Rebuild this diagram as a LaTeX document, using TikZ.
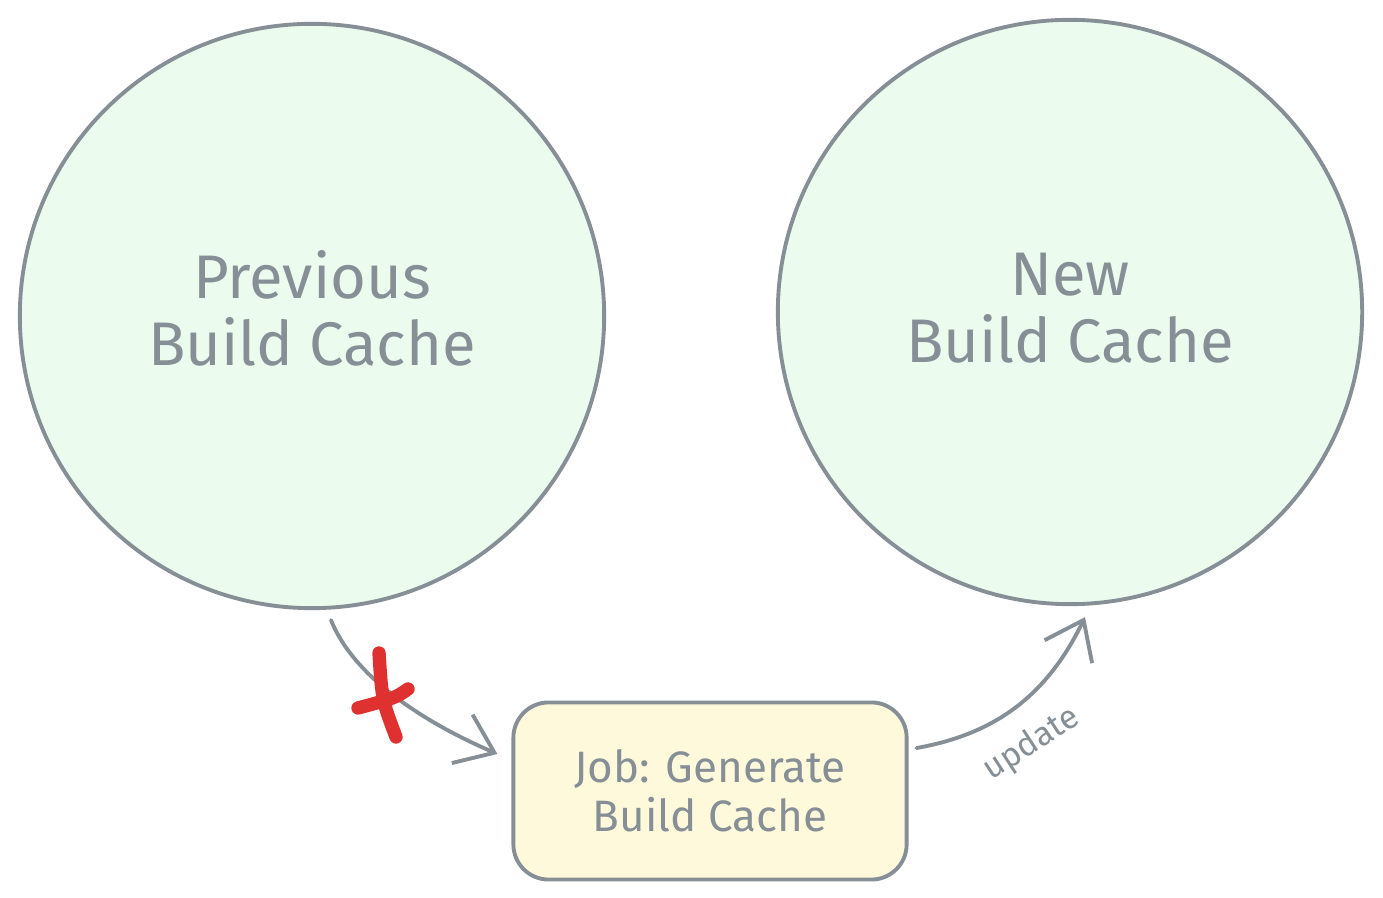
\documentclass[tikz,border=0pt]{standalone}
\usepackage{fontspec}
\setmainfont{Fira Sans}
\usetikzlibrary{arrows.meta,calc}

\definecolor{strokegray}{HTML}{868E96}
\definecolor{cachegreen}{HTML}{EBFBEE}
\definecolor{jobyellow}{HTML}{FFF9DB}
\definecolor{crossred}{HTML}{E03131}

\begin{document}
\begin{tikzpicture}[x=0.01cm, y=-0.01cm,
    cache/.style={circle, draw=strokegray, fill=cachegreen, line width=1.1pt,
        minimum size=5.84cm, align=center, text=strokegray,
        font=\fontsize{17.5}{19}\selectfont},
    job/.style={rectangle, rounded corners=10pt, draw=strokegray, fill=jobyellow,
        line width=1.1pt, minimum width=3.93cm, minimum height=1.77cm,
        align=center, text=strokegray, font=\fontsize{12.5}{14}\selectfont},
    flow/.style={strokegray, line width=1.1pt, line cap=round,
        -{Straight Barb[length=10pt, width=15pt, line width=1.1pt]}}]
    \useasboundingbox (0,0) rectangle (1383,898);

    % caches
    \node[cache] (prev) at (312,316) {};
    \node[cache] (new) at (1070,312) {};
    \node[align=center, text=strokegray, font=\fontsize{17.5}{19}\selectfont] (prevtext) at (312,308) {Previous\\Build Cache};
    \node[align=center, text=strokegray, font=\fontsize{17.5}{19}\selectfont] (newtext) at (1070,308) {New\\Build Cache};

    % job
    \node[job] (job) at (710,791) {Job: Generate\\Build Cache};

    % arrow ends
    \coordinate (prevout) at ($(prev.south)+(19,10)$);
    \coordinate (jobin) at ($(job.west)+(-14,-37)$);
    \coordinate (jobout) at ($(job.east)+(8,-43)$);
    \coordinate (newin) at ($(new.south)+(15,11)$);

    \draw[flow] (prevout) .. controls (355,680) and (430,725) .. (jobin);
    \draw[flow] (jobout) .. controls (990,735) and (1045,700) .. (newin);
    \node[rotate=33, text=strokegray, font=\fontsize{9.5}{10}\selectfont, inner sep=1pt] (update) at (1032,744) {update};

    % cross
    \draw[crossred, line width=3.8pt, line cap=round] (379,653) .. controls (382,700) .. (396,737);
    \draw[crossred, line width=3.8pt, line cap=round] (358,708) .. controls (395,698) .. (408,689);
\end{tikzpicture}
\end{document}
